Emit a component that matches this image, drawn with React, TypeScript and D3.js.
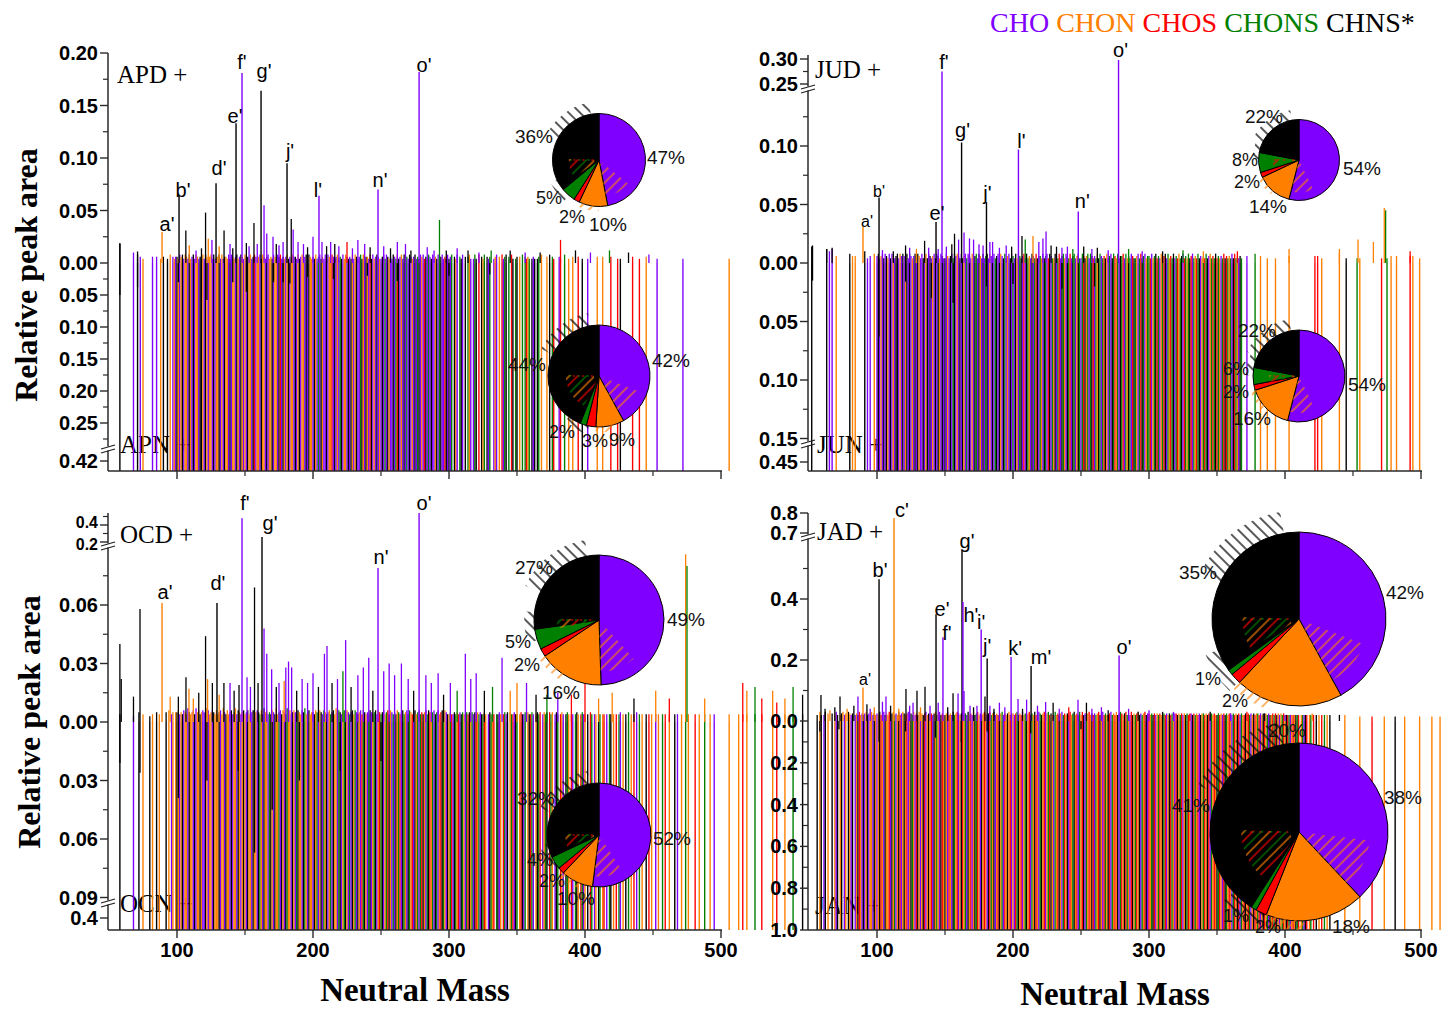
import React from 'react';
import * as d3 from 'd3';

// ---------------- DATA ----------------
const COLOR: Record<string, string> = { p: '#8000ff', o: '#ff8000', r: '#ff0000', g: '#008000', k: '#000000' };
const LEGEND_NAMES = ['CHO', 'CHON', 'CHOS', 'CHONS', 'CHNS*'];
const LEGEND_KEYS = ['p', 'o', 'r', 'g', 'k'];

const X_MAJOR = [100, 200, 300, 400, 500];
const X_MINOR = [150, 250, 350, 450];

// Negative-mode lines (one char per nominal mass, rows start at 50,100,...; . = none)
const APN_ROWS = [
  '........k. ........p. .k.p.o.... ..p..p..o. k..k.o.pop',
  'kopokpoopk opkpoopkko pkopoopkpo okpopkoopk poopkopkop',
  'opkoopkrpo opkoopkpoo kpoopkrpko pokpoopkpo kpoopkpkoo',
  'pkopgpkopp kpoorpkpop gkpoopkpko pokppgkopk oprkpopkpo',
  'pkpgpkoppk pgrkpopkpg pkpopkpgkp oprkpgpkpp okpgkpprkp',
  'kpg.kop.gk p.k.gop.pg k.r.kog.kp g..pop.o.r pgk.g.rk.g',
  'k.o.g.grog .kpk.kg.o. ..o.k.gr.. .pr..g..o. .o...r..k.',
  '..p......o ...o.....r ....r.k... .....r.... r....o....',
  '...p...... .......... ..p....... .......... ..........',
  '......o...',
];
const JUN_ROWS = [
  '..k....... ...k.p.p.. o......... k.o.o..... .k.p.p..o.',
  'pkpopkpkop kpopkkpopk pokpkpopkp koppkpokpk popkpkopkp',
  'kpopkpgkpo pkpkopgpkp opkgpkopkp gkpopkpgkp kopkgpopkp',
  'gpkopgkprp kgopkpgrkp gopkgprkpg okpgrpkgop kgrpkgpokg',
  'pgrkogpgkr pgokgpgrko pgpkgrogpk grpgokgprk gopgrkgpog',
  'grpogkrgpo grkpgorgkp grogkprgog krpgorgkpo grgkpogrgk',
  'rgopgrkrgo gpkrgopkg. ..p.....g. ..o....o.. ...o......',
  '...o...... .......... ..r.r..o.. .......... o....k....',
  '...g.o.... .......... .r...g..o. ..o....... ..r.o....o',
];
const OCN_ROWS = [
  '........k. ........p. ..k..o.... k.o..k.o.. ..k.o.po.o',
  'kopokpoopk oopkpookop pkopoopkoo okpoopkoop kpoopkopok',
  'opkoopkoop kgopkoopgk opkoogpkop kgoopkopgk oopkgopkoo',
  'pkogpokpgo kpogpkoopg kpogkopgpk ogpkoprgko pgkpogkpor',
  'gkpogrkopg pkogrpkgop kgorpkogpg rkopgkrogp kgporkgopk',
  'ogrpkgorpk gopgrkogpk rogpkgro.p kgor.gkpo. rgpk.ogrpk',
  'g.orkpg.ok rgp.okgr.p ogk.rgo.pk g.rop.kgo. rp.gko.rgp',
  'o.k.rg.po. kg.or.p.gk .o.r.gp.o. k.g.o.r.p. g.o..k.r.o',
  '..p.o..g.r ..o...k.p. .o..g.o... .r..o...g. ..o..p....',
  '......o... ...o..r..o .....g.... r.......o. .r.....o..',
  '...g......k',
];
const JAN_ROWS = [
  '......k.ok .pk.o..k.o pk.ok.po.k opk.pokrop kpokpoopko',
  'pokropkoor pkogpokrpo korpokgopr kopokrpoko rpkogopkro',
  'kopropkgor pokrogpkor pokgropkor opkrgokpor kogprokorp',
  'oprgkorpog korpgokrop gkorpogrko pgorkopgro kprogkorpg',
  'orkpgorokr pgorkoprgo krpgorokpg rokrgoprko grokpgorkp',
  'rogkrpogro kgrpokrgop rkogrpokgr opkrgorpko grokrpgoro',
  'kgroprkgor opgrokrpgo rkorgpokro grpokrogpk orgrkopogr',
  'okrgporokg r.ogpkr.og .r.k.o.r.g .o.k...... ....o.....',
  '.....o.... ....r..... ...o...... .k......o. .........o',
  '........o. ....o.....',
];

// Positive-mode baseline band heights (digit x unit, per nominal mass)
const APD_BAND_UNIT = 0.002;
const APD_BAND = [
  '0000000090 0000000050 0403020000 0030030020 3002040323',
  '3243424324 2342432334 2432342423 3424233242 4323423432',
  '4332423432 3424323423 2432434232 3423243324 2342342432',
  '3242342324 2432432342 3242432324 2432342423 3242423432',
  '2342432324 3242342423 2432342324 3423243242 3242342324',
  '2342324232 4232342324 2342324232 3242342324 2342324232',
  '3232423232 4232323242 3232423232 2323242323 2323232423',
  '2323232323 2323242323 2323232323 2323232323 2323232323',
  '2222222222 2222222222 2222222222 2222222222 2222222222',
  '2222222222',
];
const JUD_BAND_UNIT = 0.002;
const JUD_BAND = [
  '0070000000 0006050600 3000000000 4030300000 0502030040',
  '3423424324 2432342434 3242432342 4324234243 2342432432',
  '2432342434 3242342432 4234243242 3424324234 2432423424',
  '3242432342 4232432423 3242342432 2432423424 3242342342',
  '2432342432 3242432324 2342432423 3424232432 2342423423',
  '3242342324 2342423242 3242342324 2342324232 3242342324',
  '2323242323 2424232323 4232323242 3232423232 3232323232',
  '2323232323 2323243232 3232323232 3232323232 4232323232',
  '3232323232 3232323232 3232323232 3232323232 3232323232',
];
const OCD_BAND_UNIT = 0.001;
const OCD_BAND = [
  '0000000040 0000000030 0050040000 3040050400 0050604545',
  '5645465475 4564756456 5476456546 4564754645 6457465456',
  '4564756456 5464756454 6547456465 4756456546 5465745645',
  '5465465465 4564564756 5456465456 4654564654 5465456465',
  '4564564654 5465456456 4654564564 5456465456 4564564654',
  '4544545454 5445454545 4545445454 5454544545 4545454454',
  '4545445454 4545454544 5454545445 4545454545 4454545454',
  '4444544445 4444454444 5444445444 4454444454 4444544444',
  '4444444444 4444444444 4444444444 4444444444 4444444444',
  '4444444444 4444444444 4444444444 4444444444 4444444444',
  '44444444444',
];
const JAD_BAND_UNIT = 0.005;
const JAD_BAND = [
  '4565454564 5464546545 6454564546 5456454645 4564546454',
  '5464564546 4564546456 5456454645 4645456454 5456456454',
  '4564546456 5456454645 4645645456 5456456454 4564545645',
  '5456454645 4564546456 5456456454 4645456454 5464564546',
  '4645456454 5456456454 4564546456 5456454645 4564545645',
  '5454545454 4545454545 5454545454 4545454545 5454545454',
  '4545454545 5454545454 4545454545 5454545454 4545454545',
  '4444444444 4444444444 4444444444 4444444444 4444444444',
  '3333333333 3333333333 3333333333 3333333333 3333333333',
  '3333333333 3333333333',
];

// Distinct positive peaks: "mass class value"
const APD_PEAKS = '58 k .019, 71 k .011, 106.5 k .031, 109 o .017, 114 p .012, 118 k .014, 121 k .048, 123 o .023, 125.7 p .022, 131 o .016, 134.6 k .031, 139 p .018, 141 k .014, 151 k .019, 153 p .016, 156.6 k .038, 159 p .018, 164 p .055, 166 p .028, 170.6 p .025, 173 k .018, 175 p .017, 178 p .020, 184 k .042, 185.4 p .032, 189 p .020, 193 p .018, 196 k .015, 200 p .025, 206.6 p .020, 210 k .016, 213 p .020, 216 k .018, 219 p .016, 225 r .020, 229 p .014, 233 p .022, 238 p .018, 242 k .015, 252 p .016, 257 k .014, 262 p .020, 268 p .018, 272 k .012, 284 p .015, 289 p .012, 293 g .041, 298 k .012, 306 p .014, 314 k .012, 322 p .010, 331 g .012, 345 k .012, 356 p .010, 367 k .010, 382 r .022, 393 k .012, 404 p .010, 418 g .012, 432 k .010, 447 p .008';
const JUD_PEAKS = '52.6 k .015, 63 k .012, 67 k .013, 104 p .011, 112 k .010, 121 k .015, 124 p .013, 129 o .012, 135 k .019, 138 p .013, 145 p .012, 151 p .014, 155 k .016, 157 k .025, 160 p .020, 164 p .026, 168 p .021, 171 p .020, 175 p .016, 178 p .015, 183 p .018, 185 p .018, 190 p .013, 195 p .015, 199 k .014, 206.6 k .023, 209 g .020, 214.7 o .023, 219 p .018, 222 p .021, 224.3 p .027, 228 k .015, 232 k .014, 236 p .013, 240 p .014, 244 g .012, 252 k .014, 258 p .012, 262 k .013, 270 p .011, 285 g .012, 295 p .010, 310 k .010, 325 g .011, 340 o .010, 365 r .010, 403 o .012, 440 o .012, 453.7 o .020, 465 o .018, 473 o .047, 474 g .045, 492 r .010';
const OCD_PEAKS = '58 k .040, 59 k .022, 68 k .013, 72.8 k .058, 95 o .013, 101 k .013, 106.6 k .023, 108.8 o .017, 112 o .012, 116 k .015, 121 k .044, 122.5 o .022, 126 k .020, 131 o .014, 134.5 k .020, 139 p .020, 142 k .016, 145.6 k .019, 151.5 p .023, 154 p .018, 157 k .069, 159.6 k .020, 164 p .048, 166 p .035, 169.6 p .027, 173 k .018, 175 p .020, 178.8 o .021, 180 p .028, 182 p .031, 184.3 p .028, 188 k .016, 192 p .022, 196 p .020, 200 p .025, 204 k .018, 208.4 p .035, 210.3 p .039, 214 k .020, 218 p .022, 222 g .026, 224 p .042, 228 k .018, 233 p .024, 237 p .028, 241 p .033, 244 k .016, 252 p .026, 256 p .030, 260 p .024, 265 p .030, 270 p .022, 274 k .016, 283 p .024, 287 p .020, 292 p .025, 296 k .014, 301 p .020, 306 g .016, 312 p .035, 316 p .022, 320 p .025, 326 k .016, 332 g .018, 339 p .033, 345 o .016, 350 o .020, 357 p .020, 364 k .014, 372 g .014, 380 p .015, 390 r .014, 400 r .020, 410 o .012, 420 o .015, 436 k .012, 452 o .016, 462 r .012, 474 o .086, 475 g .080, 488 o .012, 516 r .020, 519 o .016, 525 g .018, 530 r .012, 538 o .016, 541 r .010, 547 o .012, 553 g .018, 560 k .014';
const JAD_PEAKS = '58.8 k .085, 61.8 k .040, 65.4 o .035, 69 k .045, 72.8 k .080, 75 o .030, 78 o .040, 83 k .050, 86 p .080, 92.6 k .055, 95 p .040, 98 o .045, 104 p .063, 106.6 p .080, 110 k .050, 116 o .040, 121.3 k .105, 124 p .050, 126.5 p .060, 129.4 k .099, 132 o .045, 135.3 k .112, 139 p .050, 145 p .060, 152 k .045, 155.9 k .091, 159.6 p .090, 164 p .098, 168.4 p .050, 171 k .045, 173.5 p .050, 179.4 k .080, 183 p .050, 186 k .040, 190 p .060, 194 p .045, 203.7 p .072, 207 k .040, 210 p .070, 218 p .050, 224 p .062, 229.5 k .060, 234 p .040, 241 r .045, 247.8 p .070, 254 k .060, 258 p .040, 265 p .045, 270 k .035, 285 p .040, 292 k .030, 300 p .035, 310 k .030, 318 p .030, 330 r .025, 345 k .030, 360 p .025, 372 r .030, 385 k .025, 400 p .020, 420 o .025, 440 k .020';

// Labelled positive peaks: [mass, class, value, label]
const APD_LABELED: [number, string, number, string][] = [
  [89, 'o', 0.0295, "a'"], [101.5, 'k', 0.065, "b'"], [128.7, 'k', 0.076, "d'"], [143.4, 'k', 0.133, "e'"],
  [147.8, 'p', 0.181, "f'"], [161.8, 'k', 0.164, "g'"], [180.9, 'k', 0.095, "j'"], [204.4, 'p', 0.064, "l'"],
  [247.8, 'p', 0.07, "n'"], [278, 'p', 0.182, "o'"],
];
const JUD_LABELED: [number, string, number, string][] = [
  [89.7, 'o', 0.031, "a'"], [101.5, 'k', 0.056, "b'"], [143.4, 'k', 0.035, "e'"], [147.8, 'p', 0.275, "f'"],
  [162.2, 'k', 0.103, "g'"], [180.5, 'k', 0.052, "j'"], [204, 'p', 0.097, "l'"], [248, 'p', 0.044, "n'"],
  [277.6, 'p', 0.298, "o'"],
];
const OCD_LABELED: [number, string, number, string][] = [
  [89, 'o', 0.061, "a'"], [129.4, 'k', 0.061, "d'"], [147.8, 'p', 0.48, "f'"], [162.5, 'k', 0.26, "g'"],
  [247.8, 'p', 0.079, "n'"], [278, 'p', 0.54, "o'"],
];
const JAD_LABELED: [number, string, number, string][] = [
  [89.7, 'o', 0.11, "a'"], [101.5, 'k', 0.465, "b'"], [112.5, 'o', 0.775, "c'"], [143.4, 'k', 0.35, "e'"],
  [148.5, 'p', 0.275, "f'"], [162.5, 'k', 0.56, "g'"], [163.2, 'p', 0.39, "h'"], [176.6, 'p', 0.3, "i'"],
  [181, 'k', 0.205, "j'"], [198.6, 'p', 0.21, "k'"], [213.3, 'k', 0.18, "m'"], [278, 'p', 0.215, "o'"],
];

// Short negative-mode (black) peaks: "mass value"
const APN_NEG = '58 .050, 71 .038, 101 .030, 122 .058, 141 .030, 151 .045, 171 .030, 178 .030, 183 .032, 196 .022, 215 .025, 240 .020, 262 .028, 300 .020, 330 .018';
const JUN_NEG = '52.6 .015, 101.5 .063, 121 .016, 140 .030, 156 .034, 180.5 .020, 200 .018, 236 .022, 260 .020';
const OCN_NEG = '58 .021, 72.8 .026, 101 .039, 122 .030, 145 .025, 157 .067, 170 .045, 190 .030, 220 .025, 250 .020';
const JAN_NEG = '58 .05, 72 .04, 101.5 .10, 121 .05, 143 .08, 162 .10, 181 .05, 213 .06, 250 .04';

// Pie shares [CHO, CHON, CHOS, CHONS, CHNS*] in %
const APD_PIE = [47, 10, 2, 5, 36];
const APN_PIE = [42, 9, 3, 2, 44];
const JUD_PIE = [54, 14, 2, 8, 22];
const JUN_PIE = [54, 16, 2, 6, 22];
const OCD_PIE = [49, 16, 2, 5, 27];
const OCN_PIE = [52, 10, 2, 4, 32];
const JAD_PIE = [42, 20, 2, 1, 35];
const JAN_PIE = [38, 18, 2, 1, 41];

// Y tick values and labels
const APD_YT = [0, 0.05, 0.1, 0.15, 0.2];
const APD_YL = ['0.00', '0.05', '0.10', '0.15', '0.20'];
const APD_YM = [0.025, 0.075, 0.125, 0.175];
const APN_YT = [0.05, 0.1, 0.15, 0.2, 0.25, 0.42];
const APN_YL = ['0.05', '0.10', '0.15', '0.20', '0.25', '0.42'];
const APN_YM = [0.025, 0.075, 0.125, 0.175, 0.225, 0.275];
const JUD_YT = [0, 0.05, 0.1, 0.25, 0.3];
const JUD_YL = ['0.00', '0.05', '0.10', '0.25', '0.30'];
const JUD_YM = [0.025, 0.075, 0.125, 0.275];
const JUN_YT = [0.05, 0.1, 0.15, 0.45];
const JUN_YL = ['0.05', '0.10', '0.15', '0.45'];
const JUN_YM = [0.025, 0.075, 0.125];
const OCD_YT = [0, 0.03, 0.06, 0.2, 0.4];
const OCD_YL = ['0.00', '0.03', '0.06', '0.2', '0.4'];
const OCD_YM = [0.015, 0.045, 0.075, 0.3, 0.5];
const OCN_YT = [0.03, 0.06, 0.09, 0.4];
const OCN_YL = ['0.03', '0.06', '0.09', '0.4'];
const OCN_YM = [0.015, 0.045, 0.075];
const JAD_YT = [0, 0.2, 0.4, 0.7, 0.8];
const JAD_YL = ['0.0', '0.2', '0.4', '0.7', '0.8'];
const JAD_YM = [0.1, 0.3, 0.5];
const JAN_YT = [0.2, 0.4, 0.6, 0.8, 1.0];
const JAN_YL = ['0.2', '0.4', '0.6', '0.8', '1.0'];
const JAN_YM = [0.1, 0.3, 0.5, 0.7, 0.9];

// ---------------- helpers ----------------
type Seg = { d: [number, number]; r: [number, number] };
function makeScale(segs: Seg[]) {
  const sc = segs.map((s) => d3.scaleLinear().domain(s.d).range(s.r));
  return (v: number) => {
    for (let i = segs.length - 1; i > 0; i--) {
      if (v >= segs[i].d[0]) return sc[i](Math.min(v, segs[i].d[1]));
    }
    return sc[0](Math.min(v, segs[0].d[1]));
  };
}
function parseRows(rows: string[]) {
  const out: { m: number; c: string }[] = [];
  rows.forEach((row, i) => {
    const s = row.replace(/ /g, '');
    for (let j = 0; j < s.length; j++) if (s[j] !== '.') out.push({ m: 50 + i * 50 + j, c: s[j] });
  });
  return out;
}
function parseDigits(rows: string[]) {
  const out = new Map<number, number>();
  rows.forEach((row, i) => {
    const s = row.replace(/ /g, '');
    for (let j = 0; j < s.length; j++) out.set(50 + i * 50 + j, +s[j]);
  });
  return out;
}
function parsePeaks(str: string) {
  return str.split(',').map((t) => {
    const [m, c, v] = t.trim().split(/\s+/);
    return { m: +m, c, v: +v };
  });
}
function parseNeg(str: string) {
  return str.split(',').map((t) => {
    const [m, v] = t.trim().split(/\s+/);
    return { m: +m, v: +v };
  });
}

const SANS = 'Liberation Sans, Arial, Helvetica, sans-serif';
const SERIF = 'Liberation Serif, Times New Roman, serif';
const PIE_COLORS = ['#8000ff', '#ff8000', '#ff0000', '#008000', '#000000'];

// ---------------- layout ----------------
const PANELS = [
  {
    xL: 108, y0: 263, yB: 471, axisTop: 53, xLabels: false,
    upName: 'APD +', upNamePos: [117, 83], lowName: 'APN +', lowNamePos: [120, 453],
    upSegs: [{ d: [0, 0.2], r: [263, 53] }] as Seg[],
    lowSegs: [{ d: [0, 0.28], r: [263, 442.2] }, { d: [0.41, 0.44], r: [454.6, 473.8] }] as Seg[],
    upBreaks: [] as number[], lowBreaks: [448],
    lowRows: APN_ROWS, band: APD_BAND, bandUnit: APD_BAND_UNIT, peaks: APD_PEAKS, labeled: APD_LABELED, neg: APN_NEG,
    upT: APD_YT, upL: APD_YL, upM: APD_YM, lowT: APN_YT, lowL: APN_YL, lowM: APN_YM,
    tickStyle: {} as Record<string, number[]>,
    nudges: { "a'": [5, -1], "b'": [4, 2], "d'": [3, -8], "e'": [-1, 0], "f'": [0, -4], "g'": [3, -13], "j'": [3, -5], "l'": [-1, 1], "n'": [2, -3], "o'": [5, 0] } as Record<string, number[]>,
    small: [] as string[],
    pies: [
      { v: APD_PIE, cx: 599, cy: 160, r: 46.5, lab: [[666, 157], [608, 224], [572, 217], [549, 198], [534, 136]] },
      { v: APN_PIE, cx: 599, cy: 376, r: 51, lab: [[671, 360], [622, 440], [595, 441], [562, 432], [527, 364]] },
    ],
  },
  {
    xL: 808, y0: 263, yB: 471, axisTop: 55, xLabels: false,
    upName: 'JUD +', upNamePos: [815, 78], lowName: 'JUN +', lowNamePos: [817, 453],
    upSegs: [{ d: [0, 0.15], r: [263, 87.5] }, { d: [0.25, 0.31], r: [84, 54] }] as Seg[],
    lowSegs: [{ d: [0, 0.15], r: [263, 438.5] }, { d: [0.44, 0.46], r: [450.3, 473.7] }] as Seg[],
    upBreaks: [88], lowBreaks: [443],
    lowRows: JUN_ROWS, band: JUD_BAND, bandUnit: JUD_BAND_UNIT, peaks: JUD_PEAKS, labeled: JUD_LABELED, neg: JUN_NEG,
    upT: JUD_YT, upL: JUD_YL, upM: JUD_YM, lowT: JUN_YT, lowL: JUN_YL, lowM: JUN_YM,
    tickStyle: {} as Record<string, number[]>,
    nudges: { "a'": [4, 0], "b'": [0, 0], "e'": [1, -2], "f'": [2, -3], "g'": [1, -5], "j'": [1, -2], "l'": [3, -2], "n'": [4, -4], "o'": [2, -3] } as Record<string, number[]>,
    small: ["a'", "b'"],
    pies: [
      { v: JUD_PIE, cx: 1299, cy: 160, r: 40.5, lab: [[1362, 168], [1268, 206], [1247, 182], [1245, 160], [1264, 116]] },
      { v: JUN_PIE, cx: 1299, cy: 376, r: 46, lab: [[1367, 384], [1252, 418], [1236, 392], [1236, 369], [1257, 330]] },
    ],
  },
  {
    xL: 108, y0: 722, yB: 930, axisTop: 513, xLabels: true,
    upName: 'OCD +', upNamePos: [120, 543], lowName: 'OCN +', lowNamePos: [120, 912],
    upSegs: [{ d: [0, 0.09], r: [722, 546.5] }, { d: [0.2, 0.56], r: [542, 511.4] }] as Seg[],
    lowSegs: [{ d: [0, 0.09], r: [722, 897.5] }, { d: [0.39, 0.42], r: [911.5, 931] }] as Seg[],
    upBreaks: [545], lowBreaks: [902],
    lowRows: OCN_ROWS, band: OCD_BAND, bandUnit: OCD_BAND_UNIT, peaks: OCD_PEAKS, labeled: OCD_LABELED, neg: OCN_NEG,
    upT: OCD_YT, upL: OCD_YL, upM: OCD_YM, lowT: OCN_YT, lowL: OCN_YL, lowM: OCN_YM,
    tickStyle: { '0.2': [16, 2.5], '0.4': [16, -2.5] } as Record<string, number[]>,
    nudges: { "a'": [3, -4], "d'": [1, -13], "f'": [3, -8], "g'": [8, -7], "n'": [3, -4], "o'": [5, -3] } as Record<string, number[]>,
    small: [] as string[],
    pies: [
      { v: OCD_PIE, cx: 599, cy: 620, r: 65, lab: [[686, 619], [561, 692], [527, 665], [518, 642], [534, 567]] },
      { v: OCN_PIE, cx: 599, cy: 835, r: 52, lab: [[672, 838], [576, 898], [552, 881], [540, 860], [536, 798]] },
    ],
  },
  {
    xL: 808, y0: 721, yB: 930, axisTop: 513, xLabels: true,
    upName: 'JAD +', upNamePos: [817, 540], lowName: 'JAN +', lowNamePos: [815, 914],
    upSegs: [{ d: [0, 0.6], r: [721, 538] }, { d: [0.7, 0.82], r: [533, 509] }] as Seg[],
    lowSegs: [{ d: [0, 1.0], r: [721, 930] }] as Seg[],
    upBreaks: [536], lowBreaks: [] as number[],
    lowRows: JAN_ROWS, band: JAD_BAND, bandUnit: JAD_BAND_UNIT, peaks: JAD_PEAKS, labeled: JAD_LABELED, neg: JAN_NEG,
    upT: JAD_YT, upL: JAD_YL, upM: JAD_YM, lowT: JAN_YT, lowL: JAN_YL, lowM: JAN_YM,
    tickStyle: {} as Record<string, number[]>,
    nudges: { "a'": [2, -2], "b'": [1, -2], "c'": [8, -1], "e'": [6, 2], "f'": [4, 3], "g'": [5, -2], "h'": [8, 20], "i'": [0, -1], "j'": [0, -5], "k'": [4, -2], "m'": [10, -2], "o'": [5, -1] } as Record<string, number[]>,
    small: ["a'"],
    pies: [
      { v: JAD_PIE, cx: 1299, cy: 619, r: 87, lab: [[1405, 592], [1287, 730], [1235, 701], [1208, 679], [1198, 572]] },
      { v: JAN_PIE, cx: 1299, cy: 832, r: 89, lab: [[1403, 797], [1351, 926], [1268, 927], [1236, 916], [1191, 805]] },
    ],
  },
];

type PanelCfg = (typeof PANELS)[number];

function xScaleFor(p: PanelCfg) {
  return d3.scaleLinear().domain([100, 500]).range([p.xL + 69, p.xL + 613]);
}

function Spectra({ p }: { p: PanelCfg }) {
  const x = xScaleFor(p);
  const yU = makeScale(p.upSegs);
  const yL = makeScale(p.lowSegs);
  const low = parseRows(p.lowRows);
  const band = parseDigits(p.band);
  const peaks = parsePeaks(p.peaks);
  const neg = parseNeg(p.neg);
  return (
    <g>
      <text x={p.lowNamePos[0]} y={p.lowNamePos[1]} fontFamily={SERIF} fontSize={25}>{p.lowName}</text>
      {low.map((d, i) => (
        <line key={'l' + i} x1={x(d.m)} x2={x(d.m)} y1={p.y0} y2={p.yB} stroke={COLOR[d.c]} strokeWidth={1.4} />
      ))}
      {neg.map((d, i) => (
        <line key={'n' + i} x1={x(d.m)} x2={x(d.m)} y1={p.y0} y2={yL(d.v)} stroke="#000" strokeWidth={1.3} />
      ))}
      {low.map((d, i) => {
        const h = band.get(d.m) || 0;
        if (!h) return null;
        return <line key={'b' + i} x1={x(d.m)} x2={x(d.m)} y1={p.y0} y2={yU(h * p.bandUnit)} stroke={COLOR[d.c]} strokeWidth={1.3} />;
      })}
      {peaks.map((d, i) => (
        <line key={'p' + i} x1={x(d.m)} x2={x(d.m)} y1={p.y0} y2={yU(d.v)} stroke={COLOR[d.c]} strokeWidth={1.3} />
      ))}
      {p.labeled.map((d, i) => (
        <line key={'L' + i} x1={x(d[0])} x2={x(d[0])} y1={p.y0} y2={yU(d[2])} stroke={COLOR[d[1]]} strokeWidth={1.4} />
      ))}
    </g>
  );
}

function BreakMark({ x, y }: { x: number; y: number }) {
  return (
    <g>
      <rect x={x - 2} y={y - 1.5} width={4} height={4} fill="#fff" />
      <line x1={x - 7} y1={y + 1} x2={x + 7} y2={y - 3} stroke="#222" strokeWidth={1.2} />
      <line x1={x - 7} y1={y + 5} x2={x + 7} y2={y + 1} stroke="#222" strokeWidth={1.2} />
    </g>
  );
}

function Axes({ p }: { p: PanelCfg }) {
  const x = xScaleFor(p);
  const yU = makeScale(p.upSegs);
  const yL = makeScale(p.lowSegs);
  const ax = '#2a2a2a';
  return (
    <g>
      <line x1={p.xL} x2={p.xL} y1={p.axisTop} y2={p.yB} stroke={ax} strokeWidth={1.5} />
      <line x1={p.xL} x2={x(500) + 1} y1={p.yB} y2={p.yB} stroke={ax} strokeWidth={1.5} />
      {X_MAJOR.map((v) => (
        <line key={'xm' + v} x1={x(v)} x2={x(v)} y1={p.yB} y2={p.yB + 8} stroke={ax} strokeWidth={1.4} />
      ))}
      {X_MINOR.map((v) => (
        <line key={'xn' + v} x1={x(v)} x2={x(v)} y1={p.yB} y2={p.yB + 5} stroke={ax} strokeWidth={1.2} />
      ))}
      {p.xLabels &&
        X_MAJOR.map((v) => (
          <text key={'xl' + v} x={x(v)} y={p.yB + 27} textAnchor="middle" fontFamily={SANS} fontWeight="bold" fontSize={20}>
            {v}
          </text>
        ))}
      {p.upT.map((v, i) => {
        const st = p.tickStyle[p.upL[i]] || [20, 0];
        return (
          <g key={'ut' + i}>
            <line x1={p.xL - 8} x2={p.xL} y1={yU(v)} y2={yU(v)} stroke={ax} strokeWidth={1.4} />
            <text x={p.xL - 10} y={yU(v) + st[1]} dy="0.35em" textAnchor="end" fontFamily={SANS} fontWeight="bold" fontSize={st[0]}>
              {p.upL[i]}
            </text>
          </g>
        );
      })}
      {p.upM.map((v, i) => (
        <line key={'um' + i} x1={p.xL - 5} x2={p.xL} y1={yU(v)} y2={yU(v)} stroke={ax} strokeWidth={1.2} />
      ))}
      {p.lowT.map((v, i) => (
        <g key={'lt' + i}>
          <line x1={p.xL - 8} x2={p.xL} y1={yL(v)} y2={yL(v)} stroke={ax} strokeWidth={1.4} />
          <text x={p.xL - 10} y={yL(v)} dy="0.35em" textAnchor="end" fontFamily={SANS} fontWeight="bold" fontSize={20}>
            {p.lowL[i]}
          </text>
        </g>
      ))}
      {p.lowM.map((v, i) => (
        <line key={'lm' + i} x1={p.xL - 5} x2={p.xL} y1={yL(v)} y2={yL(v)} stroke={ax} strokeWidth={1.2} />
      ))}
      {p.upBreaks.map((b, i) => <BreakMark key={'ub' + i} x={p.xL} y={b} />)}
      {p.lowBreaks.map((b, i) => <BreakMark key={'lb' + i} x={p.xL} y={b} />)}
    </g>
  );
}

function PeakLabels({ p }: { p: PanelCfg }) {
  const x = xScaleFor(p);
  const yU = makeScale(p.upSegs);
  return (
    <g>
      <text x={p.upNamePos[0]} y={p.upNamePos[1]} fontFamily={SERIF} fontSize={25}>{p.upName}</text>
      {p.labeled.map((d, i) => {
        const n = p.nudges[d[3]] || [3, -3];
        const small = p.small.includes(d[3]);
        return (
          <text key={i} x={x(d[0]) + n[0]} y={yU(d[2]) + n[1]} textAnchor="middle" fontFamily={SANS} fontSize={small ? 16 : 20}>
            {d[3]}
          </text>
        );
      })}
    </g>
  );
}

function Pie({ v, cx, cy, r, lab }: { v: number[]; cx: number; cy: number; r: number; lab: number[][] }) {
  const arcs = d3.pie<number>().sort(null).value((d) => d)(v);
  const arc = d3.arc<any>();
  const deg = (a: number) => (a * Math.PI) / 180;
  const A = (ir: number, or: number, s: number, e: number) =>
    arc({ innerRadius: ir, outerRadius: or, startAngle: s, endAngle: e }) || '';
  const oS = arcs[1].startAngle;
  const oE = arcs[1].endAngle;
  const kS = arcs[4].startAngle;
  const mixS = Math.min(kS + deg(5), deg(258));
  return (
    <g>
      <g transform={`translate(${cx},${cy})`}>
        <path d={A(r * 0.9, r * 1.25, deg(295), deg(350))} fill="url(#hatchBlack)" />
        <path d={A(r * 0.9, r * 1.15, kS - deg(10), kS + deg(15))} fill="url(#hatchBlack)" />
        {arcs.map((a, i) => (
          <path key={i} d={A(0, r, a.startAngle, a.endAngle)} fill={PIE_COLORS[i]} stroke="#000" strokeWidth={1} />
        ))}
        <path d={A(r * 0.1, r * 0.8, oS - deg(40), oS)} fill="url(#hatchOrange)" />
        <path d={A(r * 0.99, r * 1.1, oE - deg(25), oE)} fill="url(#hatchOrange)" />
        <path d={A(r * 0.1, r * 0.65, mixS, deg(272))} fill="url(#hatchMix)" />
        <line x1={-r * 0.12} x2={-r * 0.62} y1={0} y2={0} stroke="#ff0000" strokeWidth={1.2} strokeDasharray="2 7" />
        <line x1={-r * 0.2} x2={-r * 0.62} y1={0} y2={0} stroke="#008000" strokeWidth={1.2} strokeDasharray="2 7" />
      </g>
      {v.map((val, i) => (
        <text key={'t' + i} x={lab[i][0]} y={lab[i][1]} dy="0.35em" textAnchor="middle" fontFamily={SANS} fontSize={v[i] < 10 ? 18 : 19} fill="#111">
          {val}%
        </text>
      ))}
    </g>
  );
}

export default function App() {
  return (
    <div style={{ position: 'absolute', left: 0, top: 0 }}>
      <svg width={1445} height={1011} viewBox="0 0 1445 1011" style={{ display: 'block', background: '#fff' }}>
        <defs>
          <pattern id="hatchBlack" patternUnits="userSpaceOnUse" width={8} height={8} patternTransform="rotate(-45)">
            <line x1={4} y1={0} x2={4} y2={8} stroke="#000" strokeWidth={1.3} />
          </pattern>
          <pattern id="hatchOrange" patternUnits="userSpaceOnUse" width={8} height={8} patternTransform="rotate(45)">
            <line x1={4} y1={0} x2={4} y2={8} stroke="#ff8000" strokeWidth={1.2} />
          </pattern>
          <pattern id="hatchMix" patternUnits="userSpaceOnUse" width={18} height={18} patternTransform="rotate(45)">
            <line x1={3} y1={0} x2={3} y2={18} stroke="#ff0000" strokeWidth={1.2} />
            <line x1={9} y1={0} x2={9} y2={18} stroke="#008000" strokeWidth={1.2} />
            <line x1={15} y1={0} x2={15} y2={18} stroke="#ff8000" strokeWidth={1.2} />
          </pattern>
        </defs>
        <rect x={0} y={0} width={1445} height={1011} fill="#fff" />
        {PANELS.map((p, i) => <Spectra key={'s' + i} p={p} />)}
        {PANELS.map((p, i) => <Axes key={'a' + i} p={p} />)}
        {PANELS.map((p, i) => (
          <g key={'pie' + i}>
            {p.pies.map((q, j) => <Pie key={j} v={q.v} cx={q.cx} cy={q.cy} r={q.r} lab={q.lab} />)}
          </g>
        ))}
        {PANELS.map((p, i) => <PeakLabels key={'pl' + i} p={p} />)}

        <text x={990} y={32} fontFamily={SERIF} fontSize={28}>
          {LEGEND_NAMES.map((n, i) => (
            <tspan key={n} fill={COLOR[LEGEND_KEYS[i]]} dx={i === 0 ? 0 : 7}>{n}</tspan>
          ))}
        </text>

        <text transform="translate(37,275) rotate(-90)" textAnchor="middle" fontFamily={SERIF} fontWeight="bold" fontSize={32}>
          Relative peak area
        </text>
        <text transform="translate(40,722) rotate(-90)" textAnchor="middle" fontFamily={SERIF} fontWeight="bold" fontSize={32}>
          Relative peak area
        </text>
        <text x={415} y={1001} textAnchor="middle" fontFamily={SERIF} fontWeight="bold" fontSize={33}>Neutral Mass</text>
        <text x={1115} y={1005} textAnchor="middle" fontFamily={SERIF} fontWeight="bold" fontSize={33}>Neutral Mass</text>
      </svg>
    </div>
  );
}
